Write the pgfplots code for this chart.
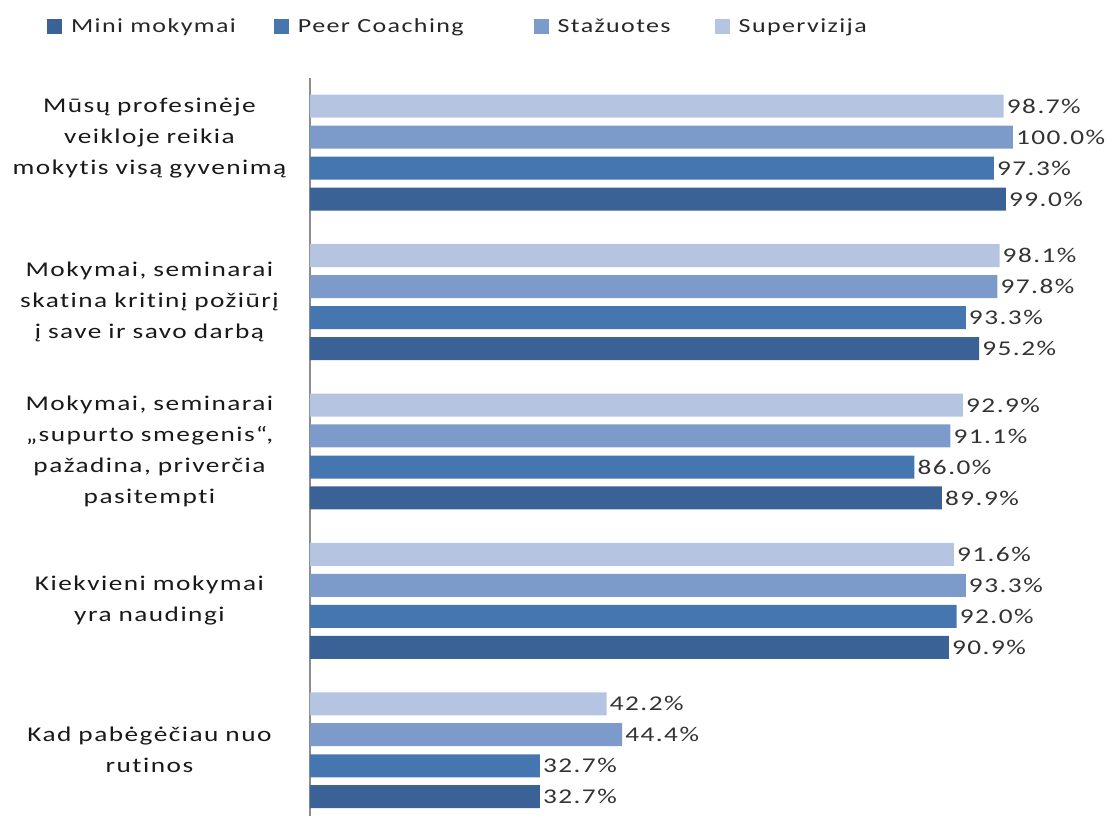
\documentclass[border=0pt]{standalone}
\usepackage{pgfplots}
\pgfplotsset{compat=1.18}
\usepackage{fontspec}
\setmainfont{Carlito}[FakeStretch=1.3, LetterSpace=7, Ligatures={NoCommon}]
\definecolor{cMini}{RGB}{59,98,150}
\definecolor{cPeer}{RGB}{70,118,176}
\definecolor{cStaz}{RGB}{124,155,202}
\definecolor{cSup}{RGB}{181,196,224}
\begin{document}
\begin{tikzpicture}
\begin{axis}[
    scale only axis,
    width=809pt, height=738pt,
    xbar, bar shift=0pt, bar width=0.154,
    xmin=0, xmax=115.1,
    ymin=-0.5, ymax=4.44, y dir=reverse,
    axis x line=none,
    axis y line*=left,
    y axis line style={draw=black!45, line width=1.2pt},
    ytick={-0.1,1,2,3,4},
    yticklabels={{Mūsų profesinėje\\veikloje reikia\\mokytis visą gyvenimą},
                 {Mokymai, seminarai\\skatina kritinį požiūrį\\į save ir savo darbą},
                 {Mokymai, seminarai\\„supurto smegenis“,\\pažadina, priverčia\\pasitempti},
                 {Kiekvieni mokymai\\yra naudingi},
                 {Kad pabėgėčiau nuo\\rutinos}},
    major tick length=0pt,
    yticklabel style={font=\fontsize{21}{31}\selectfont, align=center, text width=290pt,
        text=black!90, xshift=-12pt},
    /pgf/number format/assume math mode=true,
    point meta=x,
    nodes near coords={\pgfmathprintnumber[fixed,fixed zerofill,precision=1]{\pgfplotspointmeta}\%},
    nodes near coords style={font=\fontsize{21}{24}\selectfont, text=black!80, anchor=west, inner sep=3pt},
    legend columns=4,
    legend style={at={(rel axis cs:-0.329,1.07)}, anchor=west, draw=none, fill=none,
        font=\fontsize{20}{24}\selectfont, text=black!85,
        /tikz/every odd column/.append style={column sep=7pt},
        /tikz/column 2/.style={column sep=36pt},
        /tikz/column 4/.style={column sep=68pt},
        /tikz/column 6/.style={column sep=42pt}},
    legend image code/.code={\fill[#1, draw=none] (0pt,-7.5pt) rectangle (15pt,7.5pt);},
]
\addplot[fill=cMini, draw=none] coordinates {(99.0,0.311) (95.2,1.311) (89.9,2.311) (90.9,3.311) (32.7,4.311)};
\addlegendentry{Mini mokymai}
\addplot[fill=cPeer, draw=none] coordinates {(97.3,0.104) (93.3,1.104) (86.0,2.104) (92.0,3.104) (32.7,4.104)};
\addlegendentry{Peer Coaching}
\addplot[fill=cStaz, draw=none] coordinates {(100.0,-0.104) (97.8,0.896) (91.1,1.896) (93.3,2.896) (44.4,3.896)};
\addlegendentry{Stažuotes}
\addplot[fill=cSup, draw=none] coordinates {(98.7,-0.311) (98.1,0.689) (92.9,1.689) (91.6,2.689) (42.2,3.689)};
\addlegendentry{Supervizija}
\end{axis}
\pgfresetboundingbox
\path ([xshift=-310pt,yshift=78pt]current axis.north west) rectangle (current axis.south east);
\end{tikzpicture}
\end{document}
